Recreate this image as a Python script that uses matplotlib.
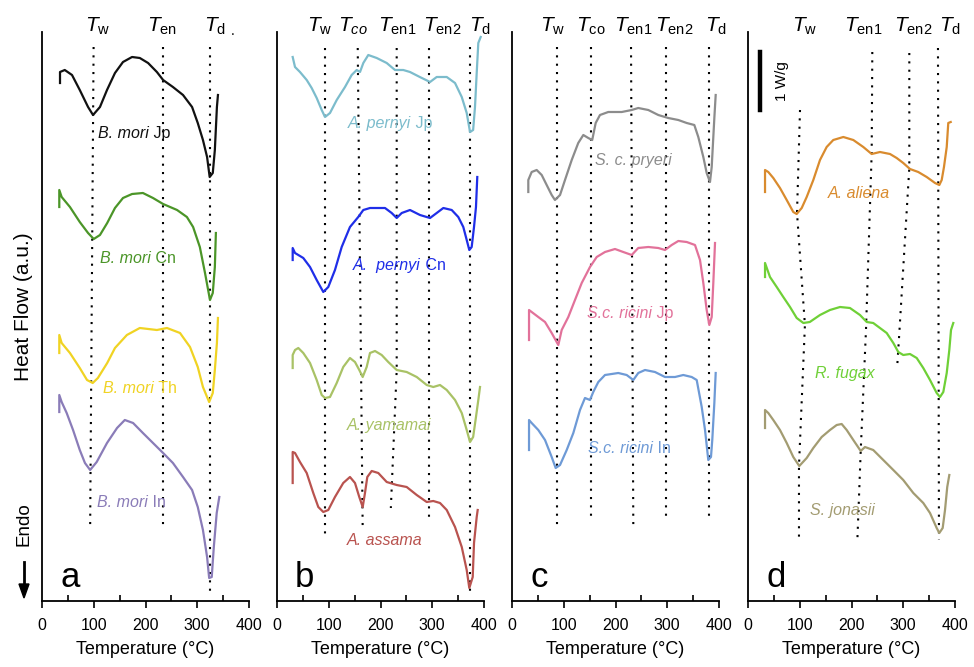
import matplotlib.pyplot as plt

plt.rcParams['font.family'] = 'Liberation Sans'
plt.rcParams['mathtext.fontset'] = 'custom'
plt.rcParams['mathtext.rm'] = 'Liberation Sans'
plt.rcParams['mathtext.it'] = 'Liberation Sans:italic'

# heat flow in arbitrary units (curves are offset for display)

# panel a - B. mori
bm_jp_t = [34.8, 34.8, 44, 58, 73, 89, 98.6, 112, 125.6, 141, 156.5, 174, 189, 205, 222, 234, 253, 272.5,
           290, 301, 311, 319, 324, 330, 334, 338, 340]
bm_jp_hf = [518, 529, 531, 526, 511, 494, 486, 494, 511, 528, 539, 544, 543, 538, 529, 521, 514, 506,
            494, 478, 461, 444, 424, 428, 451, 494, 506]
bm_cn_t = [33.4, 33.4, 38, 54, 73, 89, 100, 112, 126, 141, 156.5, 174, 195, 214.5, 234, 261, 280, 292,
           305, 315, 324.6, 330, 334, 336]
bm_cn_hf = [394, 411, 404, 394, 379, 368, 362, 366, 378, 393, 403, 407, 408, 403, 397, 391, 384, 374,
            354, 328, 301, 308, 334, 368]
bm_th_t = [33.4, 33.4, 38, 54, 73, 87, 98, 108, 126, 141, 164, 189, 222, 241.5, 266.7, 286, 301, 311,
           323, 330, 334, 338, 340]
bm_th_hf = [248, 266, 258, 248, 233, 221, 218, 223, 238, 253, 266, 273, 271, 273, 268, 254, 234, 214,
            199, 208, 231, 258, 283]
bm_in_t = [33.4, 33.4, 38, 47.7, 60, 73, 83, 93, 105.7, 125.6, 145, 160, 176, 195, 214.5, 234, 253,
           272.5, 290, 301, 311, 319, 323, 328, 332, 337.6, 342.6]
bm_in_hf = [189, 206, 199, 188, 171, 151, 138, 131, 139, 158, 173, 181, 178, 168, 158, 148, 138,
            124, 111, 94, 71, 44, 23, 24, 54, 88, 104]

# panel b - Antheraea
ap_jp_t = [30.3, 34.8, 44.4, 57.4, 67, 76.7, 86.4, 92.8, 102.4, 115.4, 131.4, 144.3, 154, 160.4, 166.8,
           176.4, 192.7, 212, 228, 244, 257, 276, 295.7, 308.6, 328, 344, 357, 366.6, 373, 379, 382.6,
           385.9, 389, 393.6]
ap_jp_hf = [544, 534, 529, 521, 513, 503, 491, 484, 488, 501, 514, 526, 531, 529, 538,
            546, 543, 538, 531, 531, 529, 524, 519, 524, 524, 518, 504, 488, 469, 471, 494,
            528, 558, 564]
ap_cn_t = [30.3, 30.3, 34.8, 50.8, 63.8, 76.7, 89.5, 99.1, 112, 125, 141, 157, 166.8, 179.7, 208.7,
           221.6, 231.3, 241, 257, 276.3, 295.7, 308.6, 321.4, 337.6, 350.3, 360, 366.6, 371.6, 376.2,
           380.7, 384.5, 387]
ap_cn_hf = [341, 353, 348, 343, 334, 321, 309, 314, 331, 354, 374, 384, 391, 393, 393,
            388, 383, 388, 391, 386, 383, 388, 393, 391, 384, 374, 361, 351, 354,
            374, 394, 424]
ay_t = [30.3, 30.3, 34.8, 41.2, 50.8, 63.8, 76.7, 86.4, 92.8, 102.4, 115.4, 128, 141, 150.7, 159,
        165.6, 173.3, 179.7, 189.4, 202.3, 215, 231.3, 250.6, 270, 289.3, 302, 315, 328, 344, 357,
        366.6, 373, 379, 384.5, 389, 392.3]
ay_hf = [233, 246, 251, 253, 248, 238, 221, 206, 203, 204, 218, 234, 243, 239, 231,
         224, 234, 248, 250, 246, 239, 231, 229, 224, 216, 214, 216, 211, 201, 188,
         171, 159, 164, 184, 201, 214]
aa_t = [30.3, 30.3, 34.8, 44.4, 57.4, 70.1, 79.8, 89.5, 99.1, 112, 128, 141, 150.7, 159, 165.6, 170,
        174.5, 183, 195.7, 212, 231.3, 250.6, 270, 289.3, 302, 315, 328, 344, 357, 366.6, 371.6,
        378.2, 380.7, 385.9, 387.8]
aa_hf = [118, 149, 148, 139, 128, 108, 94, 89, 91, 104, 118, 124, 118, 104, 94, 108,
         124, 130, 128, 119, 116, 114, 106, 99, 100, 98, 91, 74, 54, 31, 13,
         24, 58, 84, 91]

# panel c - Samia cynthia
scp_t = [31.5, 31.5, 38, 47.7, 57.4, 67, 76.7, 83, 92.8, 102.4, 115.4, 128, 137.8, 147.4, 155, 161.7,
         170, 186, 212, 231.3, 244, 263.4, 282.7, 302, 321.4, 337.6, 352.3, 360, 369.7, 376.2, 382.6,
         385.9, 391, 393.6]
scp_hf = [409, 421, 429, 431, 426, 416, 406, 401, 406, 421, 441, 458, 466, 463, 461, 478,
          486, 489, 489, 491, 493, 491, 486, 483, 481, 478, 476, 464, 444, 428, 419,
          434, 483, 506]
scr_jp_t = [32.9, 32.9, 38, 50.8, 63.8, 76.7, 89.5, 96, 108.8, 121.7, 134.7, 150.7, 163.7, 179.7, 199,
            215, 231.3, 244, 263.4, 282.7, 295.7, 308.6, 321.4, 337.6, 353.6, 363.3, 369.7, 376.2,
            381.3, 385.9, 389, 392.3]
scr_jp_hf = [261, 291, 289, 284, 279, 268, 256, 271, 284, 301, 318, 334, 344, 349, 352,
             349, 346, 353, 354, 353, 351, 356, 360, 359, 356, 341, 318, 291,
             276, 284, 318, 358]
scr_in_t = [32.9, 32.9, 38, 50.8, 63.8, 76.7, 84.4, 92.8, 105.7, 118.5, 131.4, 141, 150.7, 157, 166.8,
            179.7, 205.4, 221.6, 234.4, 244, 257, 276.3, 295.7, 315, 331, 347.2, 356.9, 366.6, 373,
            379.3, 384.5, 387, 391, 393.6]
scr_in_hf = [151, 181, 178, 171, 161, 144, 133, 136, 151, 168, 191, 203, 201, 209, 219,
             226, 228, 226, 221, 228, 231, 229, 224, 224, 226, 224, 221, 194, 171,
             141, 144, 161, 198, 228]

# panel d - A. aliena, R. fugax, S. jonasii
aal_t = [32.9, 32.9, 39.2, 48.9, 61.8, 74.8, 87.5, 94.1, 103.8, 113.4, 126.2, 139.1, 152, 164.8, 184.2,
         203.5, 222.8, 239, 255, 274.4, 287.3, 300, 313, 329, 345.3, 361.4, 369.7, 374.3, 378.7, 384,
         387, 391.7]
aal_hf = [409, 431, 429, 423, 413, 401, 389, 387, 393, 404, 421, 441, 454, 461, 464,
          461, 454, 447, 449, 447, 443, 438, 432, 429, 424, 418, 416, 421, 434, 454,
          478, 479]
rf_t = [32.9, 32.9, 42.5, 55.5, 68.2, 81.2, 94.1, 107, 119.4, 139.1, 158.4, 177.8, 197, 216.4, 229.4,
        242, 255, 268, 280.8, 290.4, 300, 313, 326, 338.7, 351.7, 364.6, 371, 377.4, 384, 389, 392.3,
        396.7]
rf_hf = [324, 338, 324, 314, 304, 294, 283, 278, 279, 286, 291, 294, 293, 286, 279,
         278, 273, 268, 258, 249, 246, 247, 243, 233, 221, 208, 204, 209, 228, 251, 271,
         278]
sj_t = [32.9, 32.9, 39.2, 48.9, 61.8, 74.8, 87.5, 99.1, 113.4, 126.2, 142.4, 158.4, 171.4, 181, 190.7,
        203.5, 217.8, 226, 242, 261.4, 280.8, 300, 319.4, 338.7, 351.7, 364.6, 369.7, 376.2, 380.7,
        385, 389]
sj_hf = [173, 191, 188, 181, 171, 158, 144, 135, 143, 153, 164, 171, 176, 177, 171,
         161, 150, 154, 151, 141, 131, 121, 108, 98, 88, 73, 68, 73, 91,
         114, 126]

# characteristic temperature guide lines: (temperatures, heat-flow levels)
guides_a = [([99.7, 93], [554, 71]), ([233, 233], [554, 73]), ([325, 325], [554, 8])]
guides_b = [([92.8, 92.8], [553, 66]), ([156, 165.6], [553, 71]), ([231.3, 231.3, 220], [553, 231, 93]),
            ([294.5, 294.5], [553, 79]), ([373, 373], [554, 6])]
guides_c = [([87.6, 87.6], [554, 74]), ([152.6, 152.6], [554, 81]), ([230, 234.4], [554, 76]),
            ([297, 297], [554, 81]), ([381, 381], [554, 79])]
guides_d = [([100.5, 94.7, 110, 98.5, 98.5], [491, 388, 276, 135, 59]),
            ([240.2, 239, 228, 217.8, 211.2], [549, 448, 271, 150, 59]),
            ([311.7, 311.7, 292.4, 288.5], [548, 433, 268, 236]),
            ([367.1, 369], [553, 61])]

W, H = 974, 667
fig = plt.figure(figsize=(W / 100, H / 100), dpi=100)

# curve label: (italic species part, upright suffix)
panels = [
    dict(x0=42, letter='a', guides=guides_a,
         heads=[(98, r'$T_\mathrm{w}$'), (162, r'$T_\mathrm{en}$'), (215, r'$T_\mathrm{d}$')],
         curves=[(bm_jp_t, bm_jp_hf, '#111111', ('B. mori', ' Jp'), 98, 468),
                 (bm_cn_t, bm_cn_hf, '#4b9528', ('B. mori', ' Cn'), 100, 343),
                 (bm_th_t, bm_th_hf, '#f0d323', ('B. mori', ' Th'), 103, 213),
                 (bm_in_t, bm_in_hf, '#8a7cb8', ('B. mori', ' In'), 97, 99)]),
    dict(x0=277, letter='b', guides=guides_b,
         heads=[(320, r'$T_\mathrm{w}$'), (353, r'$T_{co}$'), (397, r'$T_\mathrm{en1}$'),
                (442, r'$T_\mathrm{en2}$'), (480, r'$T_\mathrm{d}$')],
         curves=[(ap_jp_t, ap_jp_hf, '#7cbccc', ('A. pernyi', ' Jp'), 348, 478),
                 (ap_cn_t, ap_cn_hf, '#1f2ee8', ('A.  pernyi', ' Cn'), 353, 336),
                 (ay_t, ay_hf, '#a9c266', ('A. yamamai', ''), 347, 176),
                 (aa_t, aa_hf, '#b9534f', ('A. assama', ''), 347, 61)]),
    dict(x0=512, letter='c', guides=guides_c,
         heads=[(553, r'$T_\mathrm{w}$'), (591, r'$T_\mathrm{co}$'), (633, r'$T_\mathrm{en1}$'),
                (674, r'$T_\mathrm{en2}$'), (716, r'$T_\mathrm{d}$')],
         curves=[(scp_t, scp_hf, '#8c8c8c', ('S. c. pryeri', ''), 595, 441),
                 (scr_jp_t, scr_jp_hf, '#e2729a', ('S.c. ricini', ' Jp'), 587, 288),
                 (scr_in_t, scr_in_hf, '#6e9ad6', ('S.c. ricini', ' In'), 588, 153)]),
    dict(x0=748, letter='d', guides=guides_d,
         heads=[(805, r'$T_\mathrm{w}$'), (863, r'$T_\mathrm{en1}$'), (913, r'$T_\mathrm{en2}$'),
                (950, r'$T_\mathrm{d}$')],
         curves=[(aal_t, aal_hf, '#d98b2e', ('A. aliena', ''), 828, 408),
                 (rf_t, rf_hf, '#6fd037', ('R. fugax', ''), 815, 228),
                 (sj_t, sj_hf, '#a39c72', ('S. jonasii', ''), 810, 91)]),
]

scale = 207 / 400.0
for p in panels:
    x0 = p['x0']
    ax = fig.add_axes([x0 / W, 1 - 601 / H, 207 / W, 569 / H])
    ax.set_xlim(0, 400)
    ax.set_ylim(0, 569)
    for s in ['top', 'right']:
        ax.spines[s].set_visible(False)
    ax.spines['left'].set_linewidth(1.3)
    ax.spines['bottom'].set_linewidth(1.3)
    ax.set_yticks([])
    ax.set_xticks([0, 100, 200, 300, 400])
    ax.set_xticks([50, 150, 250, 350], minor=True)
    ax.tick_params(axis='x', which='major', direction='out', length=5, width=1.2,
                   labelsize=11.5, pad=7)
    ax.tick_params(axis='x', which='minor', direction='in', length=4, width=1.2)
    ax.set_xlabel('Temperature (°C)', fontsize=13, labelpad=6)

    for gx, gy in p['guides']:
        ax.plot(gx, gy, color='black', lw=1.5, ls=(0, (1, 3)), clip_on=False, zorder=1)

    for t, hf, c, (sp, suffix), lx, ly in p['curves']:
        ax.plot(t, hf, color=c, lw=1.6, solid_joinstyle='round', clip_on=False, zorder=2)
        lab = ax.text((lx - x0) / scale, ly - 5, sp, color=c, fontsize=11.5, style='italic',
                      va='baseline', ha='left', zorder=3)
        if suffix:
            ax.annotate(suffix, xy=(1, 0), xycoords=lab, color=c, fontsize=11.5,
                        va='bottom', ha='left', zorder=3)

    for hx, ht in p['heads']:
        ax.text((hx - x0) / scale, 575, ht, fontsize=15, ha='center', va='center', clip_on=False)

    ax.text(35, 14, p['letter'], fontsize=25, ha='left', va='baseline')

# stray dot after T_d in panel a, scale bar in panel d
fig.text(233 / W, 1 - 31 / H, '.', fontsize=10, ha='center', va='center')
fig.add_artist(plt.Line2D([760 / W, 760 / W], [1 - 52 / H, 1 - 110 / H], color='black', lw=3.2))
fig.text(782 / W, 1 - 81 / H, '1 W/g', fontsize=11, rotation=90, ha='center', va='center')

fig.text(24 / W, 1 - 307 / H, 'Heat Flow (a.u.)', fontsize=15, rotation=90, ha='center', va='center')
fig.text(24 / W, 1 - 524 / H, 'Endo', fontsize=13.5, rotation=90, ha='center', va='center')
fig.add_artist(plt.Line2D([24 / W, 24 / W], [1 - 562 / H, 1 - 585 / H], color='black', lw=2))
fig.patches.append(plt.Polygon([[19 / W, 1 - 584 / H], [29 / W, 1 - 584 / H], [24 / W, 1 - 598 / H]],
                               closed=True, color='black', transform=fig.transFigure))

fig.savefig('out.png', dpi=100)
